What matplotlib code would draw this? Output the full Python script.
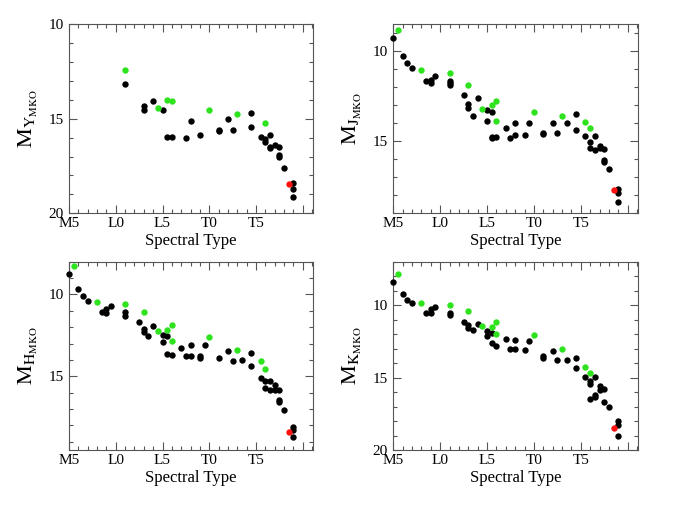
import numpy as np
import matplotlib
matplotlib.use("Agg")
import matplotlib.pyplot as plt
from matplotlib.ticker import MultipleLocator, FixedLocator

plt.rcParams['font.family'] = ['Liberation Serif', 'DejaVu Serif']
plt.rcParams['mathtext.fontset'] = 'stix'

# spectral type code: M5=5, L0=10, L5=15, T0=20, T5=25
sp_ticks = [5, 10, 15, 20, 25, 30]
sp_labels = ['M5', 'L0', 'L5', 'T0', 'T5', '']

# ---- Y band
y_black_x = [11, 13, 13, 14, 15, 15.5, 16, 17.5, 18, 19, 21, 21, 22, 22.5, 24.5, 24.5, 25.5, 26, 26,
             26.5, 26.5, 26.5, 27, 27.5, 27.5, 27.5, 28, 29, 29, 29]
y_black_m = [13.17, 14.32, 14.53, 14.06, 14.51, 15.94, 15.94, 16.0, 15.1, 15.84, 15.57, 15.64, 15.0,
             15.6, 14.71, 15.41, 15.96, 16.08, 16.24, 15.84, 16.47, 16.56, 16.37, 16.47, 16.91, 17.0,
             17.58, 18.4, 18.73, 19.12]
y_green_x = [11, 14.5, 15.5, 16, 20, 23, 26]
y_green_m = [12.42, 14.43, 14.02, 14.04, 14.51, 14.73, 15.2]
y_red_x = [28.5]
y_red_m = [18.47]

# ---- J band
j_black_x = [5, 6, 6.5, 7, 8.5, 9, 9, 9.5, 11, 11, 11, 12.5, 13, 13, 13.5, 14, 15, 15, 15.5, 15.5,
             15.5, 16, 17, 17.5, 18, 18, 19, 19.5, 21, 21, 22, 22.5, 23.5, 24.5, 24.5, 25.5, 26, 26,
             26.5, 26.5, 27, 27, 27.5, 27.5, 27.5, 28, 29, 29, 29]
j_black_m = [9.24, 10.26, 10.65, 10.91, 11.64, 11.75, 11.6, 11.38, 11.65, 11.78, 11.88, 12.43, 12.94,
             13.16, 13.61, 12.6, 13.27, 13.87, 13.38, 14.76, 14.8, 14.78, 14.27, 14.83, 14.65, 14.0,
             14.67, 13.98, 14.54, 14.62, 14.01, 14.54, 13.96, 13.49, 14.35, 14.68, 15.02, 15.37,
             14.72, 15.5, 15.24, 15.37, 15.43, 16.02, 16.13, 16.56, 17.66, 17.88, 18.4]
j_green_x = [5.5, 8, 11, 13, 14.5, 15.5, 16, 16, 20, 23, 25.5, 26]
j_green_m = [8.79, 11.02, 11.21, 11.9, 13.18, 12.96, 12.75, 13.87, 13.4, 13.62, 13.94, 14.26]
j_red_x = [28.5]
j_red_m = [17.69]

# ---- H band
h_black_x = [5, 6, 6.5, 7, 8.5, 9, 9, 9.5, 11, 11, 12.5, 13, 13, 13.5, 14, 15, 15, 15.5, 15.5, 16,
             17, 17.5, 18, 18, 19, 19, 19.5, 21, 22, 22.5, 23.5, 24.5, 24.5, 25.5, 26, 26, 26.5,
             26.5, 27, 27, 27.5, 27.5, 27.5, 28, 29, 29, 29]
h_black_m = [8.76, 9.69, 10.12, 10.39, 11.06, 11.12, 10.86, 10.73, 11.06, 11.29, 11.69, 12.08, 12.27,
             12.55, 11.94, 12.47, 12.88, 12.55, 13.61, 13.69, 13.24, 13.74, 13.74, 13.08, 13.76,
             13.86, 13.08, 13.88, 13.45, 14.08, 13.98, 13.59, 14.39, 15.12, 15.27, 15.73, 15.29,
             15.84, 15.82, 15.55, 15.82, 16.47, 16.57, 17.04, 18.1, 18.27, 18.69]
h_green_x = [5.5, 8, 11, 13, 14.5, 15.5, 16, 16, 20, 23, 25.5, 26]
h_green_m = [8.27, 10.45, 10.59, 11.1, 12.22, 12.14, 11.86, 12.86, 12.61, 13.37, 14.06, 14.55]
h_red_x = [28.5]
h_red_m = [18.41]

# ---- K band
k_black_x = [5, 6, 6.5, 7, 8.5, 9, 9, 9.5, 11, 11, 12.5, 13, 13, 13.5, 14, 15, 15, 15.5, 15.5, 16,
             17, 17.5, 18, 18, 19, 19.5, 21, 21, 22, 22.5, 23.5, 24.5, 24.5, 25.5, 26, 26, 26, 26.5,
             26.5, 26.5, 27, 27, 27.5, 27.5, 28, 29, 29, 29]
k_black_m = [8.41, 9.26, 9.65, 9.88, 10.55, 10.53, 10.25, 10.16, 10.51, 10.67, 11.15, 11.36, 11.59,
             11.68, 11.31, 11.8, 12.1, 11.91, 12.63, 12.81, 12.37, 13.04, 13.04, 12.4, 13.09, 12.47,
             13.53, 13.64, 13.18, 13.8, 13.82, 13.66, 14.35, 14.95, 15.21, 15.41, 16.47, 14.95,
             16.22, 16.34, 15.58, 15.88, 15.76, 16.66, 17.05, 18.0, 18.25, 19.01]
k_green_x = [5.5, 8, 11, 13, 14.5, 15.5, 16, 16, 20, 23, 25.5, 26]
k_green_m = [7.86, 9.86, 10.0, 10.41, 11.45, 11.52, 11.18, 12.0, 12.05, 13.02, 14.24, 14.68]
k_red_x = [28.5]
k_red_m = [18.5]


def draw_panel(ax, band, black, green, red, ylim):
    ax.scatter(black[0], black[1], s=21, c='black', lw=0, clip_on=False, zorder=3)
    ax.scatter(green[0], green[1], s=21, c='#2ee31e', lw=0, clip_on=False, zorder=3)
    ax.scatter(red[0], red[1], s=21, c='#ff1010', lw=0, clip_on=False, zorder=3)

    ax.set_xlim(5, 31.1)
    ax.set_ylim(ylim)
    ax.xaxis.set_major_locator(FixedLocator(sp_ticks))
    ax.set_xticklabels(sp_labels)
    ax.xaxis.set_minor_locator(MultipleLocator(1))
    ax.yaxis.set_major_locator(MultipleLocator(5))
    ax.yaxis.set_minor_locator(MultipleLocator(1))
    ax.tick_params(which='both', direction='in', top=True, right=True, color='#555555',
                   width=0.8, labelsize=11)
    ax.tick_params(axis='x', pad=3)
    ax.tick_params(axis='y', pad=4)
    ax.tick_params(which='major', length=6)
    ax.tick_params(which='minor', length=3)
    for sp in ax.spines.values():
        sp.set_color('#555555')
        sp.set_linewidth(0.8)

    ax.set_xlabel('Spectral Type', fontsize=12, labelpad=2)
    ax.set_ylabel(r'$\mathrm{M}_{\mathrm{' + band + r'}_{\mathrm{MKO}}}$', fontsize=16, labelpad=6)


fig = plt.figure(figsize=(6.78, 5.07), dpi=100)
ax1 = fig.add_axes([0.1018, 0.5793, 0.3599, 0.3728])
ax2 = fig.add_axes([0.5801, 0.5793, 0.3609, 0.3728])
ax3 = fig.add_axes([0.1018, 0.1124, 0.3599, 0.3714])
ax4 = fig.add_axes([0.5801, 0.1124, 0.3609, 0.3714])

draw_panel(ax1, 'Y', (y_black_x, y_black_m), (y_green_x, y_green_m), (y_red_x, y_red_m), (20, 10))
draw_panel(ax2, 'J', (j_black_x, j_black_m), (j_green_x, j_green_m), (j_red_x, j_red_m), (19, 8.5))
draw_panel(ax3, 'H', (h_black_x, h_black_m), (h_green_x, h_green_m), (h_red_x, h_red_m), (19.5, 8))
draw_panel(ax4, 'K', (k_black_x, k_black_m), (k_green_x, k_green_m), (k_red_x, k_red_m), (20, 7))

fig.savefig('out.png', dpi=100)
